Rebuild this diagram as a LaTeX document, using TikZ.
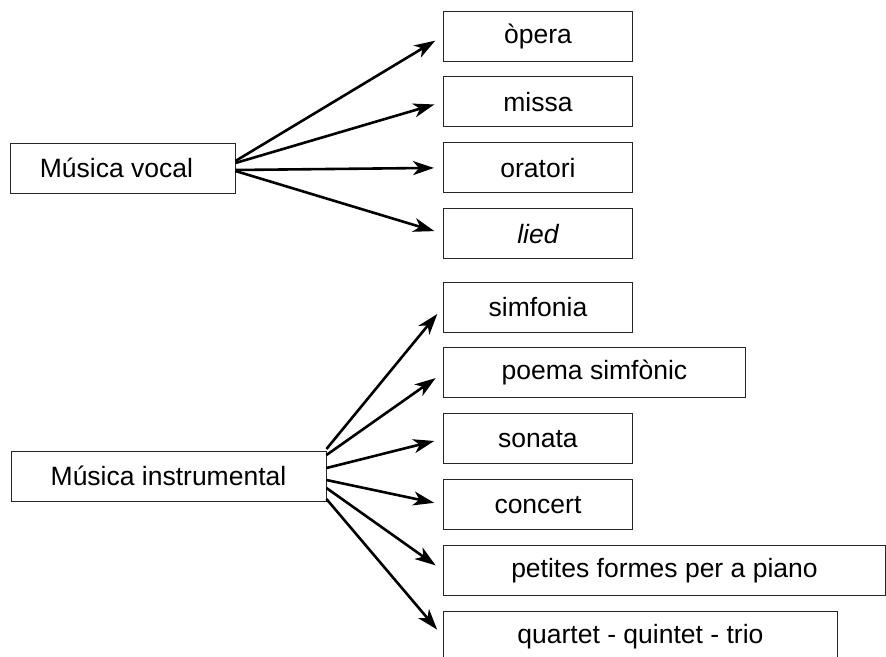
\documentclass[tikz,border=0pt]{standalone}
\usepackage{fontspec}
\setmainfont{Liberation Sans}
\usepackage{tikz}
\usetikzlibrary{arrows.meta,positioning,calc}

\begin{document}
\begin{tikzpicture}[
  x=1pt,y=-1pt,
  node distance=15pt,
  genre/.style={rectangle,draw=black!85,line width=0.9pt,minimum height=50pt,
                inner sep=0pt,font=\fontsize{26.5}{30}\selectfont},
  form/.style={genre,minimum width=189pt},
  arrow/.style={-{Stealth[length=21pt,width=14pt,inset=6pt]},line width=2.6pt,shorten >=9pt},
]
\useasboundingbox (0,0) rectangle (886,656);

\node[genre,minimum width=225pt] (vocal) at (122.5,168) {Música vocal\hspace*{12pt}};
\node[genre,minimum width=315pt] (instr) at (168.5,476) {Música instrumental};

\node[form,anchor=west] (opera) at (443,36) {òpera};
\node[form,below=of opera.south west,anchor=north west]  (missa)   {missa};
\node[form,below=of missa.south west,anchor=north west]  (oratori) {oratori};
\node[form,below=of oratori.south west,anchor=north west] (lied)   {\itshape lied};

\node[form,anchor=west] (simf) at (443,307) {simfonia};
\node[form,below=of simf.south west,anchor=north west,minimum width=302pt] (poema) {poema simfònic};
\node[form,below=of poema.south west,anchor=north west]  (sonata)  {sonata};
\node[form,below=of sonata.south west,anchor=north west] (concert) {concert};
\node[form,below=of concert.south west,anchor=north west,minimum width=442pt] (piano) {petites formes per a piano};
\node[form,below=of piano.south west,anchor=north west,minimum width=394pt] (quart) {quartet - quintet - trio};

\draw[arrow] ([yshift=7pt]vocal.east)  -- (opera.west);
\draw[arrow] ([yshift=5pt]vocal.east)  -- (missa.west);
\draw[arrow] ([yshift=-2pt]vocal.east) -- (oratori.west);
\draw[arrow] ([yshift=-3pt]vocal.east) -- (lied.west);

\draw[arrow] ([yshift=27pt]instr.east)  -- (simf.west);
\draw[arrow] ([yshift=21pt]instr.east)  -- (poema.west);
\draw[arrow] ([yshift=8pt]instr.east)   -- (sonata.west);
\draw[arrow] ([yshift=-4pt]instr.east)  -- (concert.west);
\draw[arrow] ([yshift=-12pt]instr.east) -- (piano.west);
\draw[arrow] ([yshift=-23pt]instr.east) -- (quart.west);

\end{tikzpicture}
\end{document}
